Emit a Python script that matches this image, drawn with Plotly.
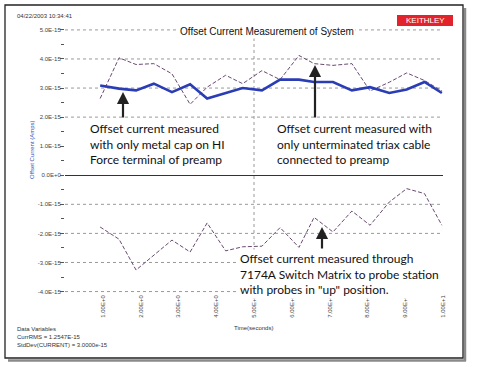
import plotly.graph_objects as go

# ---- data (current in units of 1e-15 A) ----
time_s = [0.93, 1.43, 1.88, 2.35, 2.83, 3.31, 3.76, 4.25, 4.70, 5.21,
          5.69, 6.19, 6.59, 7.09, 7.59, 8.07, 8.58, 9.04, 9.51, 9.97]
metal_cap = [3.09, 2.98, 2.92, 3.15, 2.86, 3.13, 2.64, 2.83, 3.00, 2.92,
             3.29, 3.29, 3.21, 3.21, 2.92, 3.03, 2.83, 2.95, 3.21, 2.83]
triax_cable = [2.64, 4.04, 3.81, 3.84, 3.49, 2.44, 3.03, 3.44, 3.15, 3.60,
               3.29, 4.12, 3.84, 3.78, 3.84, 2.90, 3.20, 3.52, 3.26, 2.90]
switch_matrix = [-1.78, -2.20, -3.26, -2.75, -2.23, -2.64, -1.64, -2.60, -2.46, -2.44,
                 -1.80, -2.48, -1.45, -1.95, -1.23, -1.72, -0.92, -0.46, -0.63, -1.72]

y_tickvals = [5, 4, 3, 2, 1, 0, -1, -2, -3, -4]
y_ticktext = ["5.0E-15", "4.0E-15", "3.0E-15", "2.0E-15", "1.0E-15", "0.0E+0",
              "-1.0E-15", "-2.0E-15", "-3.0E-15", "-4.0E-15"]
y_gridvals = [5, 4, 3, 2, -1, -2, -3, -4]
y_minor = [4.5, 3.5, 2.5, 1.5, 0.5, -0.5, -1.5, -2.5, -3.5]
x_tickvals = [1, 2, 3, 4, 5, 6, 7, 8, 9, 10]
x_ticktext = ["1.00E+0", "2.00E+0", "3.00E+0", "4.00E+0", "5.00E+0",
              "6.00E+0", "7.00E+0", "8.00E+0", "9.00E+0", "1.00E+1"]
x_gridvals = [5]

W, H = 500, 367
L, R, T, B = 65, 57, 27, 74
PW, PH = W - L - R, H - T - B


def px(x):
    return (x - L) / PW


def py(y):
    return (H - B - y) / PH


fig = go.Figure()
dash_col = "#6a4a72"
fig.add_trace(go.Scatter(x=time_s, y=triax_cable, mode="lines",
                         line=dict(color=dash_col, width=1, dash="4px,2px"), showlegend=False))
fig.add_trace(go.Scatter(x=time_s, y=metal_cap, mode="lines",
                         line=dict(color="#2a3db5", width=2.6), showlegend=False))
fig.add_trace(go.Scatter(x=time_s, y=switch_matrix, mode="lines",
                         line=dict(color=dash_col, width=1, dash="4px,2px"), showlegend=False))

tickfont = dict(family="Liberation Sans, Arial", size=6, color="#444")
fig.update_layout(
    width=W, height=H,
    margin=dict(l=L, r=R, t=T, b=B),
    paper_bgcolor="white", plot_bgcolor="white",
    xaxis=dict(range=[0, 10], tickvals=x_tickvals, ticktext=x_ticktext, tickangle=-90,
               showgrid=False, zeroline=False, showline=False, ticks="",
               tickfont=tickfont),
    yaxis=dict(range=[-4.05, 5.1], tickvals=y_tickvals, ticktext=y_ticktext,
               showgrid=False,
               zeroline=True, zerolinecolor="#333", zerolinewidth=1.2,
               showline=False, ticks="outside", ticklen=4, tickcolor="#555",
               tickfont=tickfont, ticklabelstandoff=-2,
               minor=dict(tickvals=y_minor, ticks="outside", ticklen=3, tickcolor="#555",
                          showgrid=False)),
)

shapes = []
for gv in y_gridvals:
    shapes.append(dict(type="line", xref="paper", yref="y", x0=0, x1=1, y0=gv, y1=gv,
                       line=dict(color="#9a9a9a", width=1, dash="dot"), layer="below"))
for gv in x_gridvals:
    shapes.append(dict(type="line", xref="x", yref="paper", x0=gv, x1=gv, y0=0, y1=1,
                       line=dict(color="#9a9a9a", width=1, dash="dot"), layer="below"))
# frame + shadow
shapes.append(dict(type="line", xref="paper", yref="paper", x0=px(465), x1=px(465),
                   y0=py(8), y1=py(361), line=dict(color="#8a8a8a", width=2.5)))
shapes.append(dict(type="line", xref="paper", yref="paper", x0=px(8), x1=px(466),
                   y0=py(360.5), y1=py(360.5), line=dict(color="#8a8a8a", width=2.5)))
shapes.append(dict(type="rect", xref="paper", yref="paper", x0=px(5), x1=px(463),
                   y0=py(358), y1=py(5), line=dict(color="#222", width=1.3)))
# logo box
shapes.append(dict(type="rect", xref="paper", yref="paper", x0=px(397), x1=px(453),
                   y0=py(26), y1=py(15), line=dict(width=0), fillcolor="#e3232b"))
fig.update_layout(shapes=shapes)

ann = []
small = dict(family="Liberation Sans, Arial", size=6, color="#333")
ann.append(dict(text="KEITHLEY", x=px(425), y=py(20.5), xref="paper", yref="paper",
                showarrow=False, font=dict(family="Liberation Sans, Arial", size=8, color="white"),
                xanchor="center", yanchor="middle"))
ann.append(dict(text="04/22/2003 10:34:41", x=px(15), y=py(15.5), xref="paper", yref="paper",
                showarrow=False, font=small, xanchor="left", yanchor="middle"))
ann.append(dict(text="Offset Current Measurement of System", x=px(267), y=py(31),
                xref="paper", yref="paper", showarrow=False,
                font=dict(family="Liberation Sans, Arial", size=10, color="#111"),
                xanchor="center", yanchor="middle", bgcolor="white"))
ann.append(dict(text="Offset Current (Amps)", x=px(32), y=py(150), xref="paper", yref="paper",
                showarrow=False, textangle=-90,
                font=dict(family="Liberation Sans, Arial", size=6, color="#3050c0"),
                xanchor="center", yanchor="middle"))
ann.append(dict(text="Time(seconds)", x=px(253), y=py(328), xref="paper", yref="paper",
                showarrow=False, font=small, xanchor="center", yanchor="middle"))
ann.append(dict(text="Data Variables<br>CurrRMS = 1.2547E-15<br>StdDev(CURRENT) = 3.0000e-15",
                x=px(15), y=py(324), xref="paper", yref="paper", showarrow=False,
                font=small, xanchor="left", yanchor="top", align="left"))

big = dict(family="Lato, Open Sans", size=12, color="#111")
ann.append(dict(text="Offset current measured<br>with only metal cap on HI<br>Force terminal of preamp",
                x=px(88), y=py(119), xref="paper", yref="paper", showarrow=False,
                font=big, xanchor="left", yanchor="top", align="left", bgcolor="white"))
ann.append(dict(text="Offset current measured with<br>only unterminated triax cable<br>connected to preamp",
                x=px(275), y=py(119), xref="paper", yref="paper", showarrow=False,
                font=big, xanchor="left", yanchor="top", align="left", bgcolor="white"))
ann.append(dict(text="Offset current measured through<br>7174A Switch Matrix to probe station<br>with probes in \"up\" position.",
                x=px(238), y=py(249), xref="paper", yref="paper", showarrow=False,
                font=big, xanchor="left", yanchor="top", align="left", bgcolor="white"))
for (ax_x, tip_y, tail_y) in [(123, 92, 119), (315, 65, 119), (322, 227, 250)]:
    ann.append(dict(text="", x=px(ax_x), y=py(tip_y), xref="paper", yref="paper",
                    showarrow=True, arrowhead=2, arrowsize=1.1, arrowwidth=2.2,
                    arrowcolor="#222", ax=0, ay=tail_y - tip_y))
fig.update_layout(annotations=ann)

fig.write_html("out.html", config={"displayModeBar": False},
               post_script="document.body.style.margin='0';")
